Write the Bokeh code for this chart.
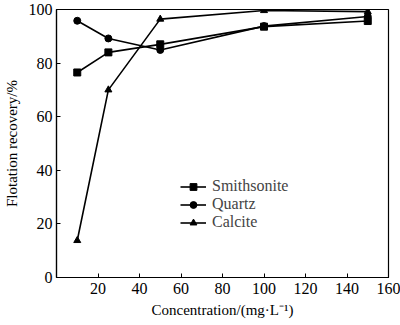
from bokeh.plotting import figure
from bokeh.models import Legend, LegendItem, FixedTicker, Range1d
from bokeh.embed import file_html
from bokeh.resources import INLINE

conc = [10, 25, 50, 100, 150]
smithsonite = [76.5, 84.0, 87.0, 93.6, 95.7]
quartz = [95.8, 89.2, 84.9, 93.8, 97.4]
calcite = [13.8, 70.0, 96.4, 99.6, 99.2]

x_ticks = [20, 40, 60, 80, 100, 120, 140, 160]
y_ticks = [0, 20, 40, 60, 80, 100]

FONT = "Liberation Serif"

p = figure(width=400, height=325, output_backend="svg", toolbar_location=None,
           x_range=Range1d(0, 160), y_range=Range1d(0, 100),
           min_border_left=52, min_border_right=12, min_border_top=9, min_border_bottom=48)
p.grid.visible = False
p.outline_line_color = "black"
p.outline_line_width = 1.2

for ax in (p.xaxis[0], p.yaxis[0]):
    ax.axis_line_color = "black"
    ax.axis_line_width = 1.2
    ax.major_tick_in = 4
    ax.major_tick_out = 0
    ax.minor_tick_line_color = None
    ax.major_label_text_font = FONT
    ax.major_label_text_font_size = "16px"
    ax.major_label_text_color = "black"
    ax.axis_label_text_font = FONT
    ax.axis_label_text_font_size = "15px"
    ax.axis_label_text_font_style = "normal"
    ax.axis_label_text_color = "black"

p.xaxis.ticker = FixedTicker(ticks=x_ticks)
p.yaxis.ticker = FixedTicker(ticks=y_ticks)
p.xaxis.axis_label = "Concentration/(mg\u00b7L\u207b\u00b9)"
p.yaxis.axis_label = "Flotation recovery/%"
p.xaxis.major_label_standoff = 5
p.yaxis.major_label_standoff = 4
p.xaxis.axis_label_standoff = 5
p.yaxis.axis_label_standoff = 6

lw = 1.6
l1 = p.line(conc, smithsonite, line_color="black", line_width=lw)
s1 = p.scatter(conc, smithsonite, marker="square", size=7, color="black")
l2 = p.line(conc, quartz, line_color="black", line_width=lw)
s2 = p.scatter(conc, quartz, marker="circle", size=7, color="black")
l3 = p.line(conc, calcite, line_color="black", line_width=lw)
s3 = p.scatter(conc, calcite, marker="triangle", size=7, color="black")

legend = Legend(items=[
    LegendItem(label="Smithsonite", renderers=[l1, s1]),
    LegendItem(label="Quartz", renderers=[l2, s2]),
    LegendItem(label="Calcite", renderers=[l3, s3]),
], location=(124, 46))
legend.border_line_color = None
legend.background_fill_alpha = 0
legend.label_text_font = FONT
legend.label_text_font_size = "16px"
legend.label_height = 17
legend.glyph_height = 17
legend.glyph_width = 26
legend.spacing = 0
legend.padding = 0
legend.margin = 0
legend.label_standoff = 6
p.add_layout(legend, "center")

open("out.html", "w").write(file_html(p, INLINE))
